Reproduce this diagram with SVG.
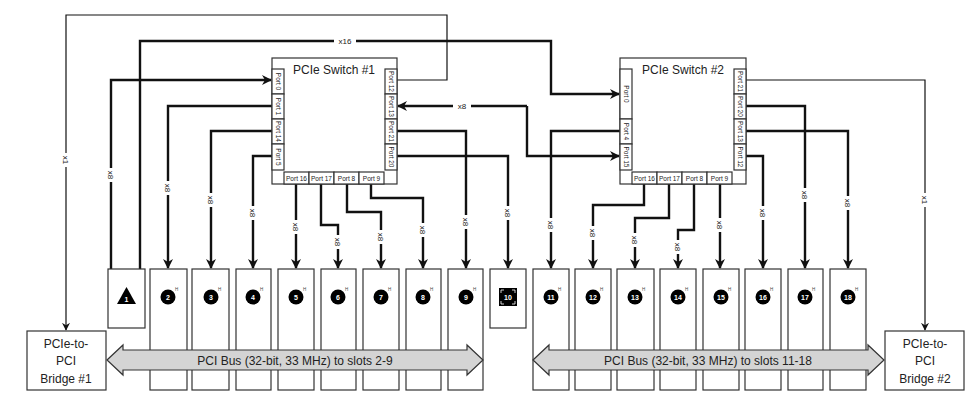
<svg xmlns="http://www.w3.org/2000/svg" width="979" height="405" viewBox="0 0 979 405">
<defs>
<marker id="ah" viewBox="0 0 10 10" refX="9" refY="5" markerWidth="10" markerHeight="10" markerUnits="userSpaceOnUse" orient="auto"><path d="M0,0 L10,5 L0,10 L3,5 z" fill="#111"/></marker>
<marker id="ahs" viewBox="0 0 10 10" refX="9" refY="5" markerWidth="8" markerHeight="8" markerUnits="userSpaceOnUse" orient="auto"><path d="M0,0 L10,5 L0,10 L3,5 z" fill="#111"/></marker>
</defs>
<style>
.bx{fill:#fff;stroke:#333;stroke-width:1.2}
.c{fill:none;stroke:#111;stroke-width:2.4}
.t{fill:none;stroke:#111;stroke-width:1.2}
.tt{font-family:"Liberation Sans",Arial,sans-serif;fill:#222}
.pl{font-family:"Liberation Sans",Arial,sans-serif;font-size:6.5px;fill:#222}
.lb{font-family:"Liberation Sans",Arial,sans-serif;font-size:8px;fill:#222;text-anchor:middle}
.nb{font-family:"Liberation Sans",Arial,sans-serif;font-size:7px;font-weight:bold;fill:#fff;text-anchor:middle}
.h{font-family:"Liberation Sans",Arial,sans-serif;font-size:4.5px;fill:#444}
</style>
<rect width="979" height="405" fill="#fff"/>

<g id="connectors">
<path class="t" d="M397,80 H447 V15 H66 V330" marker-end="url(#ahs)"/>
<path class="c" d="M140,269 V41 H551 V94 H619" marker-end="url(#ah)"/>
<path class="c" d="M111,269 V80 H271" marker-end="url(#ah)"/>
<path class="c" d="M272,106 H168 V268" marker-end="url(#ah)"/>
<path class="c" d="M272,131 H211 V268" marker-end="url(#ah)"/>
<path class="c" d="M272,156 H253 V268" marker-end="url(#ah)"/>
<path class="c" d="M296,184 V268" marker-end="url(#ah)"/>
<path class="c" d="M321,184 V225 H338 V268" marker-end="url(#ah)"/>
<path class="c" d="M347,184 V212 H381 V268" marker-end="url(#ah)"/>
<path class="c" d="M371,184 V198 H423 V268" marker-end="url(#ah)"/>
<path class="c" d="M397,131 H466 V268" marker-end="url(#ah)"/>
<path class="c" d="M397,156 H508 V268" marker-end="url(#ah)"/>
<path class="c" d="M527,106 H398" marker-end="url(#ah)"/>
<path class="c" d="M527,106 V156 H619" marker-end="url(#ah)"/>
<path class="c" d="M620,131 H551 V268" marker-end="url(#ah)"/>
<path class="c" d="M644,184 V205 H593 V268" marker-end="url(#ah)"/>
<path class="c" d="M669,184 V218 H635 V268" marker-end="url(#ah)"/>
<path class="c" d="M694,184 V230 H678 V268" marker-end="url(#ah)"/>
<path class="c" d="M720,184 V268" marker-end="url(#ah)"/>
<path class="c" d="M746,156 H763 V268" marker-end="url(#ah)"/>
<path class="c" d="M746,106 H805 V268" marker-end="url(#ah)"/>
<path class="c" d="M746,131 H848 V268" marker-end="url(#ah)"/>
<path class="t" d="M746,80 H925 V330" marker-end="url(#ahs)"/>
<g>
<rect x="334" y="36" width="22" height="10" fill="#fff"/><text class="lb" x="345" y="44">x16</text>
<rect x="453" y="101" width="18" height="10" fill="#fff"/><text class="lb" x="462" y="109">x8</text>
<g transform="translate(66,160) rotate(90)"><rect x="-7" y="-5" width="14" height="10" fill="#fff"/><text class="lb" x="0" y="3">x1</text></g>
<g transform="translate(925,200) rotate(90)"><rect x="-7" y="-5" width="14" height="10" fill="#fff"/><text class="lb" x="0" y="3">x1</text></g>
<g transform="translate(111,175) rotate(90)"><rect x="-7" y="-5" width="14" height="10" fill="#fff"/><text class="lb" x="0" y="3">x8</text></g>
<g transform="translate(168,188) rotate(90)"><rect x="-7" y="-5" width="14" height="10" fill="#fff"/><text class="lb" x="0" y="3">x8</text></g>
<g transform="translate(211,200) rotate(90)"><rect x="-7" y="-5" width="14" height="10" fill="#fff"/><text class="lb" x="0" y="3">x8</text></g>
<g transform="translate(253,213) rotate(90)"><rect x="-7" y="-5" width="14" height="10" fill="#fff"/><text class="lb" x="0" y="3">x8</text></g>
<g transform="translate(296,227) rotate(90)"><rect x="-7" y="-5" width="14" height="10" fill="#fff"/><text class="lb" x="0" y="3">x8</text></g>
<g transform="translate(338,242) rotate(90)"><rect x="-7" y="-5" width="14" height="10" fill="#fff"/><text class="lb" x="0" y="3">x8</text></g>
<g transform="translate(381,237) rotate(90)"><rect x="-7" y="-5" width="14" height="10" fill="#fff"/><text class="lb" x="0" y="3">x8</text></g>
<g transform="translate(423,230) rotate(90)"><rect x="-7" y="-5" width="14" height="10" fill="#fff"/><text class="lb" x="0" y="3">x8</text></g>
<g transform="translate(466,222) rotate(90)"><rect x="-7" y="-5" width="14" height="10" fill="#fff"/><text class="lb" x="0" y="3">x8</text></g>
<g transform="translate(508,213) rotate(90)"><rect x="-7" y="-5" width="14" height="10" fill="#fff"/><text class="lb" x="0" y="3">x8</text></g>
<g transform="translate(551,225) rotate(90)"><rect x="-7" y="-5" width="14" height="10" fill="#fff"/><text class="lb" x="0" y="3">x8</text></g>
<g transform="translate(593,233) rotate(90)"><rect x="-7" y="-5" width="14" height="10" fill="#fff"/><text class="lb" x="0" y="3">x8</text></g>
<g transform="translate(635,240) rotate(90)"><rect x="-7" y="-5" width="14" height="10" fill="#fff"/><text class="lb" x="0" y="3">x8</text></g>
<g transform="translate(678,247) rotate(90)"><rect x="-7" y="-5" width="14" height="10" fill="#fff"/><text class="lb" x="0" y="3">x8</text></g>
<g transform="translate(720,225) rotate(90)"><rect x="-7" y="-5" width="14" height="10" fill="#fff"/><text class="lb" x="0" y="3">x8</text></g>
<g transform="translate(763,213) rotate(90)"><rect x="-7" y="-5" width="14" height="10" fill="#fff"/><text class="lb" x="0" y="3">x8</text></g>
<g transform="translate(805,195) rotate(90)"><rect x="-7" y="-5" width="14" height="10" fill="#fff"/><text class="lb" x="0" y="3">x8</text></g>
<g transform="translate(848,203) rotate(90)"><rect x="-7" y="-5" width="14" height="10" fill="#fff"/><text class="lb" x="0" y="3">x8</text></g>
</g>
</g>

<g id="switch1">
<rect class="bx" x="272" y="58" width="125" height="126"/>
<text class="tt" x="334" y="74" font-size="12" text-anchor="middle">PCIe Switch #1</text>
<rect class="bx" x="272" y="69" width="12" height="25"/><rect class="bx" x="272" y="94" width="12" height="25"/><rect class="bx" x="272" y="119" width="12" height="25"/><rect class="bx" x="272" y="144" width="12" height="26"/>
<rect class="bx" x="385" y="69" width="12" height="25"/><rect class="bx" x="385" y="94" width="12" height="25"/><rect class="bx" x="385" y="119" width="12" height="25"/><rect class="bx" x="385" y="144" width="12" height="26"/>
<rect class="bx" x="284" y="172" width="25" height="12"/><rect class="bx" x="309" y="172" width="25" height="12"/><rect class="bx" x="334" y="172" width="25" height="12"/><rect class="bx" x="359" y="172" width="25" height="12"/>
<g class="pl" text-anchor="middle">
<text transform="translate(276,81.5) rotate(90)">Port 0</text>
<text transform="translate(276,106.5) rotate(90)">Port 1</text>
<text transform="translate(276,131.5) rotate(90)">Port 14</text>
<text transform="translate(276,157) rotate(90)">Port 5</text>
<text transform="translate(389,81.5) rotate(90)">Port 12</text>
<text transform="translate(389,106.5) rotate(90)">Port 13</text>
<text transform="translate(389,131.5) rotate(90)">Port 21</text>
<text transform="translate(389,157) rotate(90)">Port 20</text>
<text x="296.5" y="180.5">Port 16</text><text x="321.5" y="180.5">Port 17</text><text x="346.5" y="180.5">Port 8</text><text x="371.5" y="180.5">Port 9</text>
</g>
</g>

<g id="switch2">
<rect class="bx" x="620" y="58" width="126" height="126"/>
<text class="tt" x="683" y="74" font-size="12" text-anchor="middle">PCIe Switch #2</text>
<rect class="bx" x="620" y="69" width="12" height="50"/><rect class="bx" x="620" y="119" width="12" height="25"/><rect class="bx" x="620" y="144" width="12" height="26"/>
<rect class="bx" x="734" y="69" width="12" height="25"/><rect class="bx" x="734" y="94" width="12" height="25"/><rect class="bx" x="734" y="119" width="12" height="25"/><rect class="bx" x="734" y="144" width="12" height="26"/>
<rect class="bx" x="632" y="172" width="25" height="12"/><rect class="bx" x="657" y="172" width="25" height="12"/><rect class="bx" x="682" y="172" width="25" height="12"/><rect class="bx" x="707" y="172" width="25" height="12"/>
<g class="pl" text-anchor="middle">
<text transform="translate(624,94) rotate(90)">Port 0</text>
<text transform="translate(624,131.5) rotate(90)">Port 4</text>
<text transform="translate(624,157) rotate(90)">Port 15</text>
<text transform="translate(738,81.5) rotate(90)">Port 21</text>
<text transform="translate(738,106.5) rotate(90)">Port 20</text>
<text transform="translate(738,131.5) rotate(90)">Port 13</text>
<text transform="translate(738,157) rotate(90)">Port 12</text>
<text x="644.5" y="180.5">Port 16</text><text x="669.5" y="180.5">Port 17</text><text x="694.5" y="180.5">Port 8</text><text x="719.5" y="180.5">Port 9</text>
</g>
</g>

<g id="slots">
<g id="slot1"><rect class="bx" x="108" y="269" width="37" height="59"/><path d="M126.5,287 L136,304 L117,304 z" fill="#000"/><text class="nb" x="126.5" y="302" font-size="6">1</text></g>
<g id="slot10"><rect class="bx" x="490" y="269" width="36" height="59"/><rect x="499" y="288" width="18" height="18" fill="#000"/><path d="M501,293 V290 H504 M512,290 H515 V293 M515,301 V304 H512 M504,304 H501 V301" stroke="#fff" stroke-width="0.8" fill="none"/><text class="nb" x="508" y="299.5">10</text></g>
</g>

<g id="slots2to18">
<g><rect class="bx" x="150" y="269" width="37" height="121"/><circle cx="168" cy="297" r="7.5"/><text class="nb" x="168" y="299.5">2</text><text class="h" x="175" y="291">H</text></g>
<g><rect class="bx" x="192" y="269" width="37" height="121"/><circle cx="211" cy="297" r="7.5"/><text class="nb" x="211" y="299.5">3</text><text class="h" x="218" y="291">H</text></g>
<g><rect class="bx" x="236" y="269" width="35" height="121"/><circle cx="253" cy="297" r="7.5"/><text class="nb" x="253" y="299.5">4</text><text class="h" x="260" y="291">H</text></g>
<g><rect class="bx" x="278" y="269" width="36" height="121"/><circle cx="296" cy="297" r="7.5"/><text class="nb" x="296" y="299.5">5</text><text class="h" x="303" y="291">H</text></g>
<g><rect class="bx" x="321" y="269" width="35" height="121"/><circle cx="338" cy="297" r="7.5"/><text class="nb" x="338" y="299.5">6</text><text class="h" x="345" y="291">H</text></g>
<g><rect class="bx" x="363" y="269" width="36" height="121"/><circle cx="381" cy="297" r="7.5"/><text class="nb" x="381" y="299.5">7</text><text class="h" x="388" y="291">H</text></g>
<g><rect class="bx" x="406" y="269" width="35" height="121"/><circle cx="423" cy="297" r="7.5"/><text class="nb" x="423" y="299.5">8</text><text class="h" x="430" y="291">H</text></g>
<g><rect class="bx" x="448" y="269" width="35" height="121"/><circle cx="466" cy="297" r="7.5"/><text class="nb" x="466" y="299.5">9</text><text class="h" x="473" y="291">H</text></g>
<g><rect class="bx" x="533" y="269" width="36" height="121"/><circle cx="551" cy="297" r="7.5"/><text class="nb" x="551" y="299.5">11</text><text class="h" x="558" y="291">H</text></g>
<g><rect class="bx" x="575" y="269" width="36" height="121"/><circle cx="593" cy="297" r="7.5"/><text class="nb" x="593" y="299.5">12</text><text class="h" x="600" y="291">H</text></g>
<g><rect class="bx" x="617" y="269" width="37" height="121"/><circle cx="635" cy="297" r="7.5"/><text class="nb" x="635" y="299.5">13</text><text class="h" x="642" y="291">H</text></g>
<g><rect class="bx" x="660" y="269" width="36" height="121"/><circle cx="678" cy="297" r="7.5"/><text class="nb" x="678" y="299.5">14</text><text class="h" x="685" y="291">H</text></g>
<g><rect class="bx" x="703" y="269" width="36" height="121"/><circle cx="721" cy="297" r="7.5"/><text class="nb" x="721" y="299.5">15</text><text class="h" x="728" y="291">H</text></g>
<g><rect class="bx" x="745" y="269" width="36" height="121"/><circle cx="763" cy="297" r="7.5"/><text class="nb" x="763" y="299.5">16</text><text class="h" x="770" y="291">H</text></g>
<g><rect class="bx" x="788" y="269" width="35" height="121"/><circle cx="805" cy="297" r="7.5"/><text class="nb" x="805" y="299.5">17</text><text class="h" x="812" y="291">H</text></g>
<g><rect class="bx" x="830" y="269" width="36" height="121"/><circle cx="848" cy="297" r="7.5"/><text class="nb" x="848" y="299.5">18</text><text class="h" x="855" y="291">H</text></g>
</g>

<g id="bus1"><path d="M107,360 L123,345 V350 H467 V345 L483,360 L467,375 V370 H123 V375 z" fill="#d4d4d4" stroke="#333" stroke-width="1.2"/><text class="tt" x="295" y="365" font-size="12" text-anchor="middle">PCI Bus (32-bit, 33 MHz) to slots 2-9</text></g>
<g id="bus2"><path d="M533,360 L549,345 V350 H868 V345 L884,360 L868,375 V370 H549 V375 z" fill="#d4d4d4" stroke="#333" stroke-width="1.2"/><text class="tt" x="708" y="365" font-size="12" text-anchor="middle">PCI Bus (32-bit, 33 MHz) to slots 11-18</text></g>

<g id="bridge1"><rect class="bx" x="27" y="331" width="79" height="59"/><text class="tt" font-size="12" text-anchor="middle"><tspan x="66" y="348">PCIe-to-</tspan><tspan x="66" y="365">PCI</tspan><tspan x="66" y="383">Bridge #1</tspan></text></g>
<g id="bridge2"><rect class="bx" x="885" y="331" width="79" height="59"/><text class="tt" font-size="12" text-anchor="middle"><tspan x="925" y="348">PCIe-to-</tspan><tspan x="925" y="365">PCI</tspan><tspan x="925" y="383">Bridge #2</tspan></text></g>
</svg>
